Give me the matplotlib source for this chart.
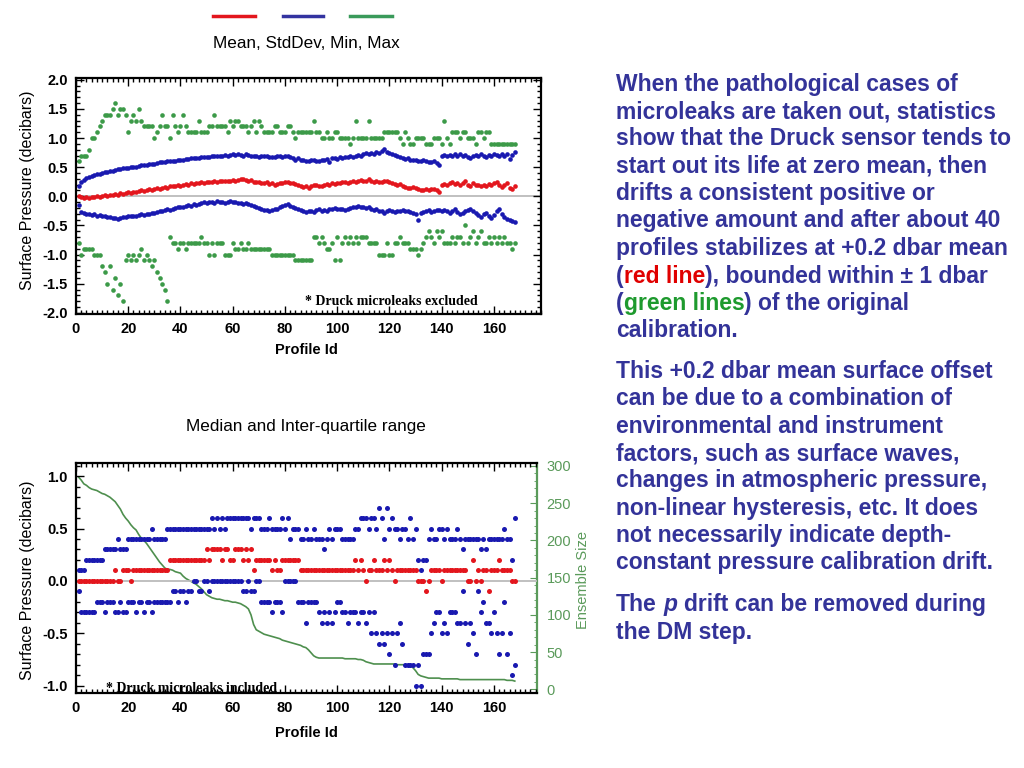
import matplotlib
matplotlib.use('Agg')
import matplotlib.pyplot as plt
from matplotlib.lines import Line2D
from matplotlib.ticker import MultipleLocator

plt.rcParams['font.family'] = ['Liberation Sans', 'DejaVu Sans']

# ---------------- data ----------------
profile_ids = list(range(1, 169))

mean_vals = [
    0.00, -0.02, -0.03, -0.02, -0.03, -0.01, -0.02, 0.00, -0.01, 0.01,
    0.02, 0.01, 0.03, 0.02, 0.04, 0.03, 0.05, 0.04, 0.06, 0.07,
    0.06, 0.08, 0.07, 0.09, 0.10, 0.09, 0.11, 0.12, 0.11, 0.13,
    0.14, 0.13, 0.15, 0.16, 0.15, 0.17, 0.18, 0.17, 0.19, 0.18,
    0.20, 0.21, 0.20, 0.22, 0.21, 0.23, 0.22, 0.24, 0.23, 0.24,
    0.25, 0.24, 0.26, 0.25, 0.26, 0.27, 0.26, 0.27, 0.26, 0.28,
    0.27, 0.28, 0.29, 0.30, 0.28, 0.27, 0.28, 0.25, 0.24, 0.25,
    0.23, 0.22, 0.24, 0.21, 0.22, 0.20, 0.21, 0.23, 0.22, 0.24,
    0.25, 0.22, 0.23, 0.21, 0.19, 0.17, 0.16, 0.18, 0.15, 0.17,
    0.19, 0.20, 0.18, 0.17, 0.19, 0.21, 0.20, 0.22, 0.21, 0.23,
    0.22, 0.24, 0.25, 0.23, 0.24, 0.26, 0.25, 0.27, 0.28, 0.26,
    0.27, 0.29, 0.26, 0.25, 0.27, 0.24, 0.25, 0.26, 0.27, 0.24,
    0.22, 0.21, 0.20, 0.21, 0.18, 0.16, 0.15, 0.14, 0.16, 0.15,
    0.12, 0.11, 0.10, 0.12, 0.11, 0.13, 0.12, 0.11, 0.08, 0.19,
    0.21, 0.19, 0.22, 0.24, 0.21, 0.23, 0.19, 0.22, 0.26, 0.20,
    0.17, 0.23, 0.19, 0.20, 0.18, 0.19, 0.17, 0.21, 0.19, 0.22,
    0.24, 0.20, 0.16, 0.19, 0.23, 0.15, 0.13, 0.17,
]

std_upper = [
    0.18, 0.25, 0.28, 0.31, 0.33, 0.35, 0.36, 0.38, 0.39, 0.40,
    0.41, 0.42, 0.43, 0.44, 0.45, 0.46, 0.47, 0.48, 0.48, 0.49,
    0.50, 0.51, 0.51, 0.52, 0.53, 0.54, 0.54, 0.55, 0.56, 0.56,
    0.57, 0.58, 0.58, 0.59, 0.60, 0.60, 0.61, 0.61, 0.62, 0.62,
    0.63, 0.64, 0.64, 0.65, 0.65, 0.66, 0.66, 0.67, 0.67, 0.68,
    0.68, 0.69, 0.69, 0.70, 0.69, 0.70, 0.71, 0.70, 0.71, 0.72,
    0.71, 0.72, 0.71, 0.70, 0.72, 0.71, 0.70, 0.69, 0.70, 0.68,
    0.69, 0.70, 0.69, 0.67, 0.68, 0.67, 0.69, 0.70, 0.68, 0.69,
    0.70, 0.68, 0.66, 0.63, 0.65, 0.62, 0.63, 0.60, 0.61, 0.63,
    0.62, 0.60, 0.61, 0.63, 0.62, 0.64, 0.59, 0.65, 0.66, 0.64,
    0.67, 0.66, 0.68, 0.67, 0.69, 0.68, 0.70, 0.71, 0.69, 0.72,
    0.74, 0.73, 0.75, 0.72, 0.76, 0.75, 0.78, 0.82, 0.76, 0.74,
    0.72, 0.71, 0.69, 0.67, 0.66, 0.64, 0.65, 0.63, 0.62, 0.63,
    0.61, 0.60, 0.62, 0.60, 0.59, 0.58, 0.60, 0.57, 0.53, 0.70,
    0.71, 0.70, 0.71, 0.69, 0.72, 0.70, 0.73, 0.69, 0.71, 0.68,
    0.66, 0.70, 0.71, 0.69, 0.72, 0.70, 0.68, 0.71, 0.70, 0.72,
    0.71, 0.69, 0.73, 0.70, 0.72, 0.64, 0.71, 0.76,
]

std_lower = [
    -0.15, -0.27, -0.29, -0.31, -0.30, -0.32, -0.31, -0.33, -0.32, -0.34,
    -0.33, -0.35, -0.36, -0.37, -0.38, -0.39, -0.37, -0.36, -0.35, -0.34,
    -0.33, -0.34, -0.33, -0.32, -0.31, -0.32, -0.30, -0.31, -0.29, -0.28,
    -0.27, -0.26, -0.25, -0.23, -0.22, -0.24, -0.21, -0.20, -0.19, -0.18,
    -0.19, -0.17, -0.15, -0.16, -0.14, -0.15, -0.13, -0.12, -0.10, -0.11,
    -0.09, -0.10, -0.11, -0.08, -0.10, -0.09, -0.11, -0.10, -0.08, -0.09,
    -0.10, -0.11, -0.12, -0.13, -0.12, -0.14, -0.15, -0.17, -0.19, -0.20,
    -0.22, -0.23, -0.24, -0.25, -0.24, -0.22, -0.21, -0.19, -0.17, -0.15,
    -0.13, -0.17, -0.18, -0.20, -0.21, -0.23, -0.25, -0.27, -0.26, -0.25,
    -0.27, -0.24, -0.22, -0.25, -0.23, -0.26, -0.22, -0.21, -0.20, -0.22,
    -0.22, -0.21, -0.23, -0.22, -0.20, -0.19, -0.18, -0.17, -0.18, -0.19,
    -0.20, -0.19, -0.21, -0.23, -0.22, -0.25, -0.26, -0.28, -0.25, -0.24,
    -0.26, -0.27, -0.25, -0.26, -0.24, -0.26, -0.25, -0.27, -0.28, -0.30,
    -0.40, -0.29, -0.27, -0.25, -0.24, -0.27, -0.25, -0.23, -0.24, -0.26,
    -0.24, -0.26, -0.28, -0.25, -0.22, -0.27, -0.31, -0.29, -0.26, -0.24,
    -0.22, -0.26, -0.29, -0.32, -0.35, -0.31, -0.28, -0.33, -0.38, -0.32,
    -0.26, -0.21, -0.30, -0.36, -0.39, -0.41, -0.42, -0.44,
]

max_vals = [
    0.6, 0.7, 0.7, 0.7, 0.8, 1.0, 1.0, 1.1, 1.2, 1.3,
    1.4, 1.4, 1.4, 1.5, 1.6, 1.4, 1.5, 1.5, 1.4, 1.1,
    1.3, 1.4, 1.3, 1.5, 1.3, 1.2, 1.2, 1.2, 1.2, 1.0,
    1.1, 1.2, 1.4, 1.2, 1.2, 1.0, 1.4, 1.2, 1.1, 1.2,
    1.4, 1.2, 1.1, 1.1, 1.1, 1.1, 1.3, 1.1, 1.1, 1.1,
    1.2, 1.2, 1.4, 1.2, 1.2, 1.2, 1.2, 1.1, 1.3, 1.2,
    1.3, 1.3, 1.2, 1.2, 1.2, 1.1, 1.2, 1.3, 1.1, 1.3,
    1.2, 1.1, 1.1, 1.1, 1.1, 1.2, 1.2, 1.1, 1.1, 1.1,
    1.2, 1.2, 1.1, 1.0, 1.1, 1.1, 1.1, 1.1, 1.1, 1.1,
    1.3, 1.1, 1.1, 1.0, 1.0, 1.1, 1.0, 1.0, 1.1, 1.1,
    1.0, 1.0, 1.0, 1.0, 0.9, 1.0, 1.3, 1.0, 1.0, 1.0,
    1.0, 1.3, 1.0, 1.0, 1.0, 1.0, 1.0, 1.1, 1.1, 1.1,
    1.1, 1.1, 1.1, 1.0, 0.9, 1.1, 1.0, 0.9, 0.9, 1.0,
    1.0, 1.0, 1.0, 0.9, 0.9, 0.9, 1.0, 1.0, 1.0, 0.9,
    1.3, 1.0, 0.9, 1.1, 1.1, 1.1, 1.0, 1.1, 1.1, 1.0,
    1.0, 1.0, 0.9, 1.1, 1.1, 1.0, 1.1, 1.1, 0.9, 0.9,
    0.9, 0.9, 0.9, 0.9, 0.9, 0.9, 0.9, 0.9,
]

min_vals = [
    -0.8, -1.0, -0.9, -0.9, -0.9, -0.9, -1.0, -1.0, -1.0, -1.2,
    -1.3, -1.5, -1.2, -1.6, -1.4, -1.7, -1.5, -1.8, -1.1, -1.0,
    -1.1, -1.0, -1.1, -1.0, -0.9, -1.1, -1.0, -1.1, -1.2, -1.1,
    -1.3, -1.4, -1.5, -1.6, -1.8, -0.7, -0.8, -0.8, -0.9, -0.8,
    -0.8, -0.9, -0.8, -0.8, -0.8, -0.8, -0.8, -0.7, -0.8, -0.8,
    -1.0, -0.8, -1.0, -0.8, -0.8, -0.8, -1.0, -1.0, -1.0, -0.8,
    -0.9, -0.9, -0.8, -0.9, -0.9, -0.8, -0.9, -0.9, -0.9, -0.9,
    -0.9, -0.9, -0.9, -0.9, -1.0, -1.0, -1.0, -1.0, -1.0, -1.0,
    -1.0, -1.0, -1.0, -1.1, -1.1, -1.1, -1.1, -1.1, -1.1, -1.1,
    -0.7, -0.7, -0.8, -0.7, -0.8, -0.9, -0.9, -0.8, -1.1, -0.7,
    -1.1, -0.8, -0.7, -0.8, -0.7, -0.8, -0.7, -0.8, -0.7, -0.7,
    -0.7, -0.8, -0.8, -0.8, -0.8, -1.0, -1.0, -1.0, -0.8, -1.0,
    -1.0, -0.8, -0.8, -0.7, -0.8, -0.8, -0.8, -0.9, -0.9, -0.9,
    -1.0, -0.9, -0.8, -0.7, -0.6, -0.7, -0.8, -0.6, -0.7, -0.6,
    -0.8, -0.8, -0.8, -0.7, -0.8, -0.7, -0.7, -0.8, -0.5, -0.8,
    -0.7, -0.6, -0.8, -0.7, -0.6, -0.8, -0.8, -0.7, -0.8, -0.7,
    -0.8, -0.7, -0.8, -0.7, -0.8, -0.8, -0.9, -0.8,
]

median_vals = [
    0.0, 0.0, 0.0, 0.0, 0.0, 0.0, 0.0, 0.0, 0.0, 0.0,
    0.0, 0.0, 0.0, 0.0, 0.1, 0.0, 0.0, 0.1, 0.1, 0.1,
    0.0, 0.1, 0.1, 0.1, 0.1, 0.1, 0.1, 0.1, 0.1, 0.1,
    0.1, 0.1, 0.1, 0.1, 0.1, 0.2, 0.2, 0.2, 0.2, 0.2,
    0.2, 0.2, 0.2, 0.2, 0.2, 0.2, 0.2, 0.2, 0.2, 0.3,
    0.2, 0.3, 0.3, 0.3, 0.3, 0.2, 0.3, 0.3, 0.2, 0.2,
    0.3, 0.3, 0.3, 0.2, 0.3, 0.2, 0.3, 0.1, 0.2, 0.2,
    0.2, 0.2, 0.2, 0.2, 0.1, 0.2, 0.1, 0.1, 0.2, 0.2,
    0.2, 0.2, 0.2, 0.2, 0.2, 0.1, 0.1, 0.1, 0.1, 0.1,
    0.1, 0.1, 0.1, 0.1, 0.1, 0.1, 0.1, 0.1, 0.1, 0.1,
    0.1, 0.1, 0.1, 0.1, 0.1, 0.1, 0.2, 0.1, 0.2, 0.1,
    0.0, 0.1, 0.1, 0.2, 0.1, 0.1, 0.1, 0.2, 0.1, 0.2,
    0.1, 0.0, 0.1, 0.1, 0.1, 0.1, 0.1, 0.1, 0.1, 0.1,
    0.0, 0.0, 0.0, -0.1, 0.0, 0.1, 0.1, 0.1, 0.1, 0.0,
    0.1, 0.1, 0.1, 0.1, 0.1, 0.1, 0.1, 0.1, 0.1, 0.0,
    0.0, 0.2, 0.0, 0.1, 0.0, 0.1, 0.1, -0.1, 0.1, 0.1,
    0.1, 0.2, 0.1, 0.1, 0.1, 0.1, 0.0, 0.0,
]

q3_vals = [
    0.1, 0.1, 0.1, 0.2, 0.2, 0.2, 0.2, 0.2, 0.2, 0.2,
    0.3, 0.3, 0.3, 0.3, 0.3, 0.4, 0.3, 0.3, 0.3, 0.4,
    0.4, 0.4, 0.4, 0.4, 0.4, 0.4, 0.4, 0.4, 0.5, 0.4,
    0.4, 0.4, 0.4, 0.4, 0.5, 0.5, 0.5, 0.5, 0.5, 0.5,
    0.5, 0.5, 0.5, 0.5, 0.5, 0.5, 0.5, 0.5, 0.5, 0.5,
    0.5, 0.6, 0.5, 0.6, 0.5, 0.6, 0.5, 0.6, 0.6, 0.6,
    0.6, 0.6, 0.6, 0.6, 0.6, 0.6, 0.5, 0.6, 0.6, 0.6,
    0.5, 0.5, 0.5, 0.6, 0.5, 0.5, 0.5, 0.5, 0.6, 0.5,
    0.6, 0.4, 0.5, 0.5, 0.5, 0.4, 0.4, 0.5, 0.4, 0.4,
    0.5, 0.4, 0.4, 0.4, 0.3, 0.4, 0.5, 0.4, 0.5, 0.5,
    0.5, 0.4, 0.4, 0.4, 0.4, 0.4, 0.5, 0.5, 0.6, 0.6,
    0.6, 0.5, 0.6, 0.6, 0.5, 0.7, 0.6, 0.4, 0.7, 0.5,
    0.6, 0.5, 0.5, 0.4, 0.5, 0.5, 0.4, 0.6, 0.4, 0.5,
    0.2, 0.1, 0.2, 0.2, 0.4, 0.5, 0.4, 0.4, 0.5, 0.5,
    0.4, 0.5, 0.4, 0.4, 0.4, 0.5, 0.4, 0.3, 0.4, 0.4,
    0.4, 0.4, 0.4, 0.4, 0.3, 0.4, 0.3, 0.4, 0.4, 0.4,
    0.4, 0.4, 0.4, 0.5, 0.4, 0.4, 0.2, 0.6,
]

q1_vals = [
    -0.1, -0.3, -0.3, -0.3, -0.3, -0.3, -0.3, -0.2, -0.2, -0.2,
    -0.3, -0.2, -0.2, -0.2, -0.3, -0.3, -0.2, -0.3, -0.3, -0.2,
    -0.2, -0.2, -0.3, -0.2, -0.2, -0.3, -0.2, -0.2, -0.3, -0.2,
    -0.2, -0.2, -0.2, -0.2, -0.2, -0.2, -0.1, -0.1, -0.2, -0.1,
    -0.1, -0.2, -0.1, -0.1, 0.0, 0.0, -0.1, -0.1, 0.0, 0.0,
    -0.1, 0.0, 0.0, 0.0, 0.0, 0.0, 0.0, 0.0, 0.0, 0.0,
    0.0, 0.0, 0.0, -0.1, -0.1, 0.0, -0.1, -0.1, 0.0, 0.0,
    -0.2, -0.2, -0.2, -0.2, -0.3, -0.2, -0.2, -0.2, -0.3, 0.0,
    0.0, 0.0, 0.0, 0.0, -0.2, -0.2, -0.2, -0.4, -0.2, -0.2,
    -0.2, -0.2, -0.3, -0.4, -0.3, -0.4, -0.3, -0.4, -0.3, -0.2,
    -0.2, -0.3, -0.3, -0.4, -0.3, -0.3, -0.3, -0.4, -0.3, -0.3,
    -0.4, -0.3, -0.5, -0.3, -0.5, -0.6, -0.5, -0.6, -0.5, -0.7,
    -0.5, -0.8, -0.5, -0.4, -0.6, -0.8, -0.8, -0.8, -0.8, -1.0,
    -0.8, -1.0, -0.7, -0.7, -0.7, -0.5, -0.4, -0.3, -0.3, -0.5,
    -0.4, -0.5, -0.3, -0.3, -0.3, -0.4, -0.4, -0.1, -0.4, -0.6,
    -0.4, -0.5, -0.7, -0.1, -0.3, -0.2, -0.4, -0.4, -0.5, -0.3,
    -0.5, -0.7, -0.5, -0.2, -0.7, -0.5, -0.9, -0.8,
]

ensemble_size = [
    285, 281, 276, 274, 271, 269, 268, 267, 265, 263,
    262, 260, 258, 255, 252, 247, 242, 235, 230, 226,
    221, 217, 214, 208, 203, 200, 196, 191, 186, 181,
    176, 171, 167, 163, 161, 161, 160, 158, 157, 156,
    152, 149, 147, 145, 143, 141, 138, 135, 131, 127,
    125, 123, 122, 121, 121, 120, 119, 119, 118, 117,
    117, 116, 115, 113, 111, 108, 100, 87, 80, 78,
    76, 74, 73, 72, 71, 70, 69, 68, 66, 65,
    64, 63, 62, 61, 60, 59, 57, 56, 53, 49,
    45, 43, 42, 42, 42, 42, 42, 42, 42, 42,
    42, 42, 41, 41, 41, 41, 41, 40, 40, 39,
    37, 36, 35, 34, 34, 34, 34, 34, 34, 34,
    34, 34, 33, 33, 33, 33, 33, 32, 29, 25,
    20, 18, 17, 16, 15, 15, 15, 15, 15, 14,
    14, 14, 14, 14, 14, 14, 13, 13, 13, 13,
    13, 13, 13, 13, 13, 13, 13, 13, 13, 13,
    13, 13, 13, 13, 12, 12, 12, 11,
]

x_ticks = [0, 20, 40, 60, 80, 100, 120, 140, 160]
top_yticks = [2.0, 1.5, 1.0, 0.5, 0.0, -0.5, -1.0, -1.5, -2.0]
bot_yticks = [1.0, 0.5, 0.0, -0.5, -1.0]
ens_ticks = [0, 50, 100, 150, 200, 250, 300]

RED = '#E3161D'
BLUE = '#1919B0'
GREEN = '#3C9A48'
ENS_GREEN = '#5A9A5A'
TXT_BLUE = '#333399'

W, H = 1024, 768
fig = plt.figure(figsize=(10.24, 7.68), dpi=100)


def fx(px):
    return px / W


def fy(py):
    return 1 - py / H


def style_axes(ax, right=True):
    for s in ax.spines.values():
        s.set_linewidth(1.6)
    ax.tick_params(which='both', direction='in', top=True, right=right,
                   width=1.0, labelsize=10.5, pad=6)
    ax.tick_params(which='major', length=6)
    ax.tick_params(which='minor', length=3)
    for lab in ax.get_xticklabels() + ax.get_yticklabels():
        lab.set_fontweight('bold')


# ---------------- top chart ----------------
ax1 = fig.add_axes([fx(76), fy(314), (541 - 76) / W, (314 - 78) / H])
ax1.set_xlim(0, 178)
ax1.set_ylim(-2.02, 2.03)
ax1.axhline(0, color='#BBBBBB', lw=1.3, zorder=1)
ms = 11
ax1.scatter(profile_ids, max_vals, s=ms, color=GREEN, lw=0, zorder=3)
ax1.scatter(profile_ids, min_vals, s=ms, color=GREEN, lw=0, zorder=3)
ax1.scatter(profile_ids, std_upper, s=ms, color=BLUE, lw=0, zorder=3)
ax1.scatter(profile_ids, std_lower, s=ms, color=BLUE, lw=0, zorder=3)
ax1.scatter(profile_ids, mean_vals, s=ms, color=RED, lw=0, zorder=3)
ax1.set_xticks(x_ticks)
ax1.set_yticks(top_yticks)
ax1.set_yticklabels([f'{v:.1f}' for v in top_yticks])
ax1.xaxis.set_minor_locator(MultipleLocator(2))
ax1.yaxis.set_minor_locator(MultipleLocator(0.1))
style_axes(ax1)
ax1.text(87.7, -1.81, '* Druck microleaks excluded', family='Liberation Serif',
         fontweight='bold', fontsize=10, va='center', ha='left', zorder=4)

# ---------------- bottom chart ----------------
ax2 = fig.add_axes([fx(76), fy(693), (537 - 76) / W, (693 - 463) / H])
ax3 = ax2.twinx()
ax2.set_zorder(ax3.get_zorder() + 1)
ax2.patch.set_visible(False)
ax2.set_xlim(0, 176.5)
ax2.set_ylim(-1.067, 1.124)
ax2.axhline(0, color='#BBBBBB', lw=1.3, zorder=1)
ms2 = 13
ax2.scatter(profile_ids, q3_vals, s=ms2, color=BLUE, lw=0, zorder=3)
ax2.scatter(profile_ids, q1_vals, s=ms2, color=BLUE, lw=0, zorder=3)
ax2.scatter(profile_ids, median_vals, s=ms2, color=RED, lw=0, zorder=3)
ax2.set_xticks(x_ticks)
ax2.set_yticks(bot_yticks)
ax2.set_yticklabels([f'{v:.1f}' for v in bot_yticks])
ax2.xaxis.set_minor_locator(MultipleLocator(2))
ax2.yaxis.set_minor_locator(MultipleLocator(0.1))
style_axes(ax2, right=False)
ax2.spines['right'].set_visible(False)
ax2.text(11.5, -1.02, '* Druck microleaks included', family='Liberation Serif',
         fontweight='bold', fontsize=10, va='center', ha='left', zorder=4)

ax3.set_ylim(-5, 304)
ax3.plot(profile_ids, ensemble_size, color='#4E8F4E', lw=1.2)
ax3.set_yticks(ens_ticks)
ax3.yaxis.set_minor_locator(MultipleLocator(10))
for side in ['top', 'left', 'bottom']:
    ax3.spines[side].set_visible(False)
ax3.spines['right'].set_color(ENS_GREEN)
ax3.spines['right'].set_linewidth(1.6)
ax3.tick_params(axis='y', which='both', direction='in', colors=ENS_GREEN,
                labelsize=10.5, pad=7)
ax3.tick_params(axis='y', which='major', length=5)
ax3.tick_params(axis='y', which='minor', length=2.5)

# ---------------- labels ----------------
lab_kw = dict(ha='center', va='center')
fig.text(fx(28), fy(190), 'Surface Pressure (decibars)', rotation=90, fontsize=11.5, **lab_kw)
fig.text(fx(28), fy(580), 'Surface Pressure (decibars)', rotation=90, fontsize=11.5, **lab_kw)
fig.text(fx(306), fy(350), 'Profile Id', fontweight='bold', fontsize=10.5, **lab_kw)
fig.text(fx(306), fy(733), 'Profile Id', fontweight='bold', fontsize=10.5, **lab_kw)
fig.text(fx(583), fy(580), 'Ensemble Size', rotation=90, color=ENS_GREEN, fontsize=10.5, **lab_kw)
fig.text(fx(306), fy(43), 'Mean, StdDev, Min, Max', fontsize=12.3, **lab_kw)
fig.text(fx(306), fy(427), 'Median and Inter-quartile range', fontsize=12.3, **lab_kw)

for (x0, x1), col in zip([(213, 255), (283, 323), (350, 392)], [RED, '#3333A0', '#3A9A5A']):
    fig.add_artist(Line2D([fx(x0), fx(x1)], [fy(16), fy(16)], transform=fig.transFigure,
                          color=col, lw=2.5))

# ---------------- right-hand text ----------------
renderer = fig.canvas.get_renderer()
TXT_KW = dict(fontsize=16.5, fontweight='bold', family=['Liberation Sans', 'DejaVu Sans'])


def text_width(s, **kw):
    t = fig.text(0, 0, s, **kw)
    w = t.get_window_extent(renderer).width
    t.remove()
    return w


space_w = text_width('a a', **TXT_KW) - text_width('aa', **TXT_KW)


def rich_line(x_px, center_px, segs):
    x = x_px
    base = center_px + 7
    for s, col, sty in segs:
        lead = len(s) - len(s.lstrip(' '))
        trail = len(s) - len(s.rstrip(' '))
        core = s.strip(' ')
        x += lead * space_w
        if core:
            t = fig.text(fx(x), fy(base), core, color=col, fontstyle=sty,
                         va='baseline', ha='left', **TXT_KW)
            x += t.get_window_extent(renderer).width
        x += trail * space_w


TXT_GREEN = '#1E9A2E'
TXT_RED = '#E00000'
lines = [
    (84, [('When the pathological cases of', TXT_BLUE, 'normal')]),
    (111, [('microleaks are taken out, statistics', TXT_BLUE, 'normal')]),
    (138, [('show that the Druck sensor tends to', TXT_BLUE, 'normal')]),
    (165, [('start out its life at zero mean, then', TXT_BLUE, 'normal')]),
    (193, [('drifts a consistent positive or', TXT_BLUE, 'normal')]),
    (220, [('negative amount and after about 40', TXT_BLUE, 'normal')]),
    (248, [('profiles stabilizes at +0.2 dbar mean', TXT_BLUE, 'normal')]),
    (276, [('(', TXT_BLUE, 'normal'), ('red line', TXT_RED, 'normal'),
           ('), bounded within \u00b1 1 dbar', TXT_BLUE, 'normal')]),
    (303, [('(', TXT_BLUE, 'normal'), ('green lines', TXT_GREEN, 'normal'),
           (') of the original', TXT_BLUE, 'normal')]),
    (330, [('calibration.', TXT_BLUE, 'normal')]),
    (371, [('This +0.2 dbar mean surface offset', TXT_BLUE, 'normal')]),
    (398, [('can be due to a combination of', TXT_BLUE, 'normal')]),
    (426, [('environmental and instrument', TXT_BLUE, 'normal')]),
    (453, [('factors, such as surface waves,', TXT_BLUE, 'normal')]),
    (480, [('changes in atmospheric pressure,', TXT_BLUE, 'normal')]),
    (508, [('non-linear hysteresis, etc. It does', TXT_BLUE, 'normal')]),
    (535, [('not necessarily indicate depth-', TXT_BLUE, 'normal')]),
    (562, [('constant pressure calibration drift.', TXT_BLUE, 'normal')]),
    (604, [('The ', TXT_BLUE, 'normal'), ('p', TXT_BLUE, 'italic'),
           (' drift can be removed during', TXT_BLUE, 'normal')]),
    (632, [('the DM step.', TXT_BLUE, 'normal')]),
]
for cy, segs in lines:
    rich_line(616, cy, segs)

fig.savefig('out.png', dpi=100)
